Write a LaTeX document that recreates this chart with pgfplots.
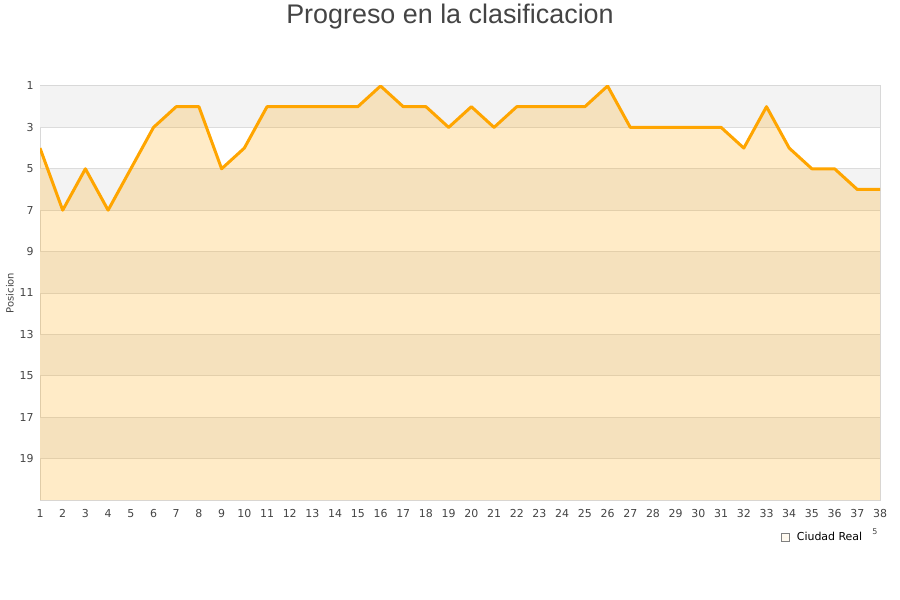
\documentclass[border=0pt]{standalone}
\usepackage{fontspec}
\setmainfont{DejaVu Sans}
\newfontfamily\titlefont{Liberation Sans}
\usepackage{pgfplots}
\pgfplotsset{compat=1.18}
\definecolor{txt}{HTML}{444444}
\definecolor{band}{HTML}{F3F3F3}
\definecolor{gridc}{HTML}{DCDCDC}
\definecolor{linec}{HTML}{FFA500}
\definecolor{framec}{HTML}{D8D8D8}
\definecolor{legfill}{HTML}{FDE6BE}
\begin{document}
\begin{tikzpicture}[x=1bp,y=1bp]
\useasboundingbox (0,0) rectangle (900,600);
\node[font=\titlefont\fontsize{27}{30}\selectfont, text=txt] at (450,583) {Progreso en la clasificacion};
\node[rotate=90, font=\fontsize{10}{12}\selectfont, text=txt] at (10,307) {Posicion};
\node[font=\fontsize{8}{9}\selectfont, text=txt] at (875,68) {5};
\begin{axis}[
  at={(40bp,100bp)}, anchor=south west,
  width=840bp, height=414bp, scale only axis,
  xmin=1, xmax=38, ymin=1, ymax=21, y dir=reverse,
  xtick={1,...,38}, ytick={1,3,...,19},
  major tick length=0pt,
  axis line style={draw=framec, line width=1bp},
  tick label style={font=\fontsize{11}{13}\selectfont, text=txt},
  /pgf/number format/assume math mode=true,
  xticklabel style={yshift=-6bp},
  yticklabel style={xshift=-3bp},
  legend style={at={(rel axis cs:0.985,-0.068)}, anchor=north east, draw=none, fill=none,
    font=\fontsize{11}{13}\selectfont, text=black, legend cell align=left},
  legend image code/.code={\path (0bp,0bp) -- (14bp,0bp); \draw[draw=gray, fill=legfill, line width=0.7bp] (0bp,-4bp) rectangle (8bp,4bp);},
]
\addplot[draw=none, fill=band, forget plot] coordinates {(1,1) (38,1) (38,3) (1,3)};
\addplot[draw=none, fill=band, forget plot] coordinates {(1,5) (38,5) (38,7) (1,7)};
\addplot[draw=none, fill=band, forget plot] coordinates {(1,9) (38,9) (38,11) (1,11)};
\addplot[draw=none, fill=band, forget plot] coordinates {(1,13) (38,13) (38,15) (1,15)};
\addplot[draw=none, fill=band, forget plot] coordinates {(1,17) (38,17) (38,19) (1,19)};
\addplot[gridc, line width=0.8bp, forget plot] coordinates {(1,3) (38,3)};
\addplot[gridc, line width=0.8bp, forget plot] coordinates {(1,5) (38,5)};
\addplot[gridc, line width=0.8bp, forget plot] coordinates {(1,7) (38,7)};
\addplot[gridc, line width=0.8bp, forget plot] coordinates {(1,9) (38,9)};
\addplot[gridc, line width=0.8bp, forget plot] coordinates {(1,11) (38,11)};
\addplot[gridc, line width=0.8bp, forget plot] coordinates {(1,13) (38,13)};
\addplot[gridc, line width=0.8bp, forget plot] coordinates {(1,15) (38,15)};
\addplot[gridc, line width=0.8bp, forget plot] coordinates {(1,17) (38,17)};
\addplot[gridc, line width=0.8bp, forget plot] coordinates {(1,19) (38,19)};
\addplot[draw=none, fill=linec, fill opacity=0.22] coordinates {
(1,21) (1,4) (2,7) (3,5) (4,7) (5,5) (6,3) (7,2) (8,2) (9,5) (10,4)
(11,2) (12,2) (13,2) (14,2) (15,2) (16,1) (17,2) (18,2) (19,3) (20,2)
(21,3) (22,2) (23,2) (24,2) (25,2) (26,1) (27,3) (28,3) (29,3) (30,3)
(31,3) (32,4) (33,2) (34,4) (35,5) (36,5) (37,6) (38,6) (38,21)};
\addlegendentry{Ciudad Real}
\addplot[draw=linec, line width=3bp, line join=round, mark=none, forget plot] coordinates {
(1,4) (2,7) (3,5) (4,7) (5,5) (6,3) (7,2) (8,2) (9,5) (10,4)
(11,2) (12,2) (13,2) (14,2) (15,2) (16,1) (17,2) (18,2) (19,3) (20,2)
(21,3) (22,2) (23,2) (24,2) (25,2) (26,1) (27,3) (28,3) (29,3) (30,3)
(31,3) (32,4) (33,2) (34,4) (35,5) (36,5) (37,6) (38,6)};
\end{axis}
\end{tikzpicture}
\end{document}
